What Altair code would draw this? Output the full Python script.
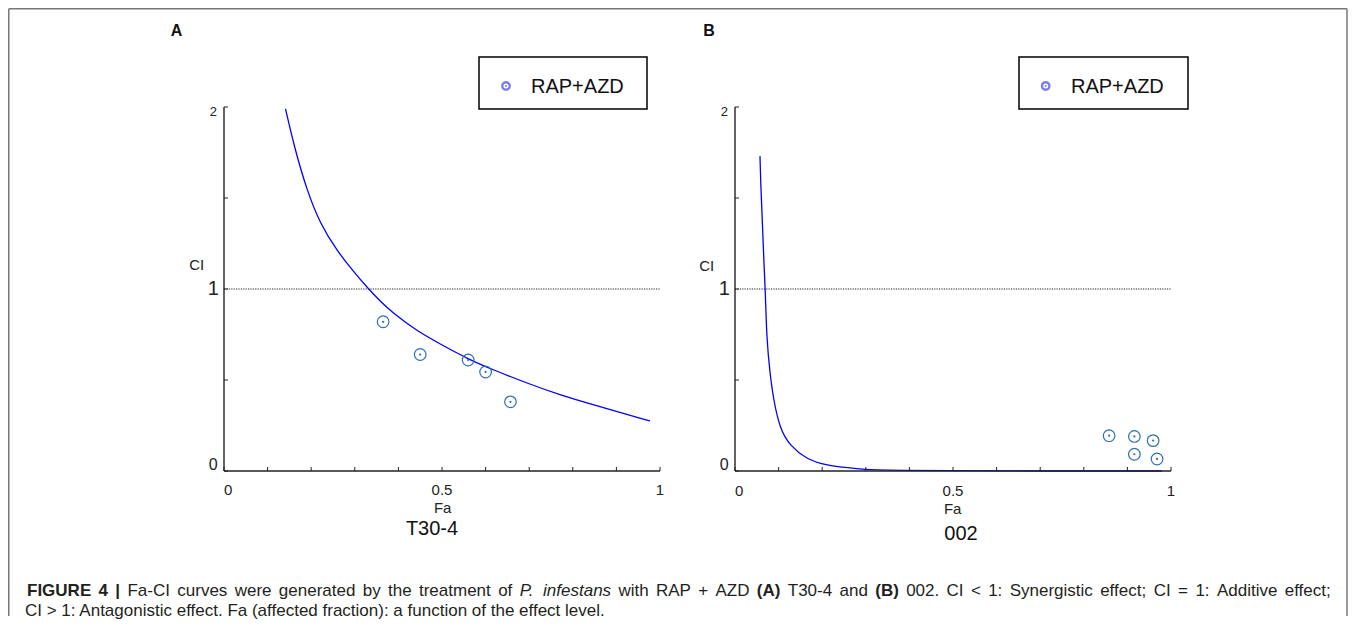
import altair as alt
import pandas as pd

# ---------------- data ----------------
# Panel A (T30-4)
fa_curve_A = [0.141, 0.163, 0.190, 0.220, 0.258, 0.297, 0.331, 0.356, 0.388, 0.442,
              0.500, 0.560, 0.618, 0.700, 0.771, 0.850, 0.920, 0.977]
ci_curve_A = [1.99, 1.764, 1.544, 1.361, 1.214, 1.095, 1.002, 0.938, 0.866, 0.770,
              0.692, 0.615, 0.555, 0.478, 0.418, 0.362, 0.314, 0.275]
fa_points_A = [0.365, 0.450, 0.560, 0.600, 0.657]
ci_points_A = [0.82, 0.64, 0.61, 0.544, 0.38]

# Panel B (002)
fa_curve_B = [0.0573, 0.0588, 0.0635, 0.0665, 0.0695, 0.0727, 0.080, 0.088, 0.103,
              0.126, 0.164, 0.203, 0.279, 0.355, 0.600, 0.979]
ci_curve_B = [1.73, 1.586, 1.33, 1.128, 1.0, 0.725, 0.542, 0.396, 0.231,
              0.139, 0.066, 0.033, 0.011, 0.002, 0.0, 0.0]
fa_points_B = [0.858, 0.916, 0.959, 0.916, 0.968]
ci_points_B = [0.194, 0.19, 0.167, 0.092, 0.066]

x_tick_values = [0.0, 0.1, 0.2, 0.3, 0.4, 0.5, 0.6, 0.7, 0.8, 0.9, 1.0]
y_tick_values = [0.0, 0.5, 1.0, 1.5, 2.0]
x_label_values = [0.0, 0.5, 1.0]
x_label_texts = ["0", "0.5", "1"]
y_label_values = [0.0, 1.0, 2.0]
y_label_texts = ["0", "1", "2"]
reference_ci = [1.0]

panel_letters = ["A", "B"]
panel_names = ["T30-4", "002"]
legend_label = "RAP+AZD"
x_title = "Fa"
y_title = "CI"

caption_line1 = [
    ("FIGURE 4 |", "bold", "normal"),
    ("Fa-CI curves were generated by the treatment of", "normal", "normal"),
    ("P. infestans", "normal", "italic"),
    ("with RAP + AZD", "normal", "normal"),
    ("(A)", "bold", "normal"),
    ("T30-4 and", "normal", "normal"),
    ("(B)", "bold", "normal"),
    ("002. CI < 1: Synergistic effect; CI = 1: Additive effect;", "normal", "normal"),
]
caption_line2 = "CI > 1: Antagonistic effect. Fa (affected fraction): a function of the effect level."

# ---------------- layout (pixels) ----------------
W, H = 436, 364
FONT = "Liberation Sans"
TXT = "#222222"
CAP_COLOR = "#231f20"
CAP_SIZE = 17
OX, OY = 224, 107          # page position of panel A plot origin
CAP_LEFT, CAP_RIGHT = 27, 1331

# approximate advance widths (1/1000 em) for Liberation Sans, used to justify line 1
REG = {" ": 278, "a": 556, "b": 556, "c": 500, "d": 556, "e": 556, "f": 278, "g": 556,
       "h": 556, "i": 222, "j": 222, "k": 500, "l": 222, "m": 833, "n": 556, "o": 556,
       "p": 556, "q": 556, "r": 333, "s": 500, "t": 278, "u": 556, "v": 500, "w": 722,
       "x": 500, "y": 500, "z": 500, "A": 667, "B": 667, "C": 722, "D": 722, "E": 667,
       "F": 611, "G": 778, "H": 722, "I": 278, "P": 667, "R": 722, "S": 667, "T": 611,
       "Z": 611, ".": 278, ",": 278, ";": 278, ":": 278, "(": 333, ")": 333, "-": 333,
       "+": 584, "<": 584, ">": 584, "=": 584, "|": 260}
BOLD = {"F": 611, "I": 278, "G": 778, "U": 722, "R": 722, "E": 667, "4": 556, "|": 280,
        "(": 333, ")": 333, "A": 722, "B": 722, " ": 278}


def tw(s, size, bold=False):
    tbl = BOLD if bold else REG
    return sum(tbl.get(c, 556) for c in s) * size / 1000.0


xscale = alt.Scale(domain=[0, 1], nice=False, zero=False)
yscale = alt.Scale(domain=[0, 2], nice=False, zero=False)
one = pd.DataFrame({"k": [0]})


def txt(text, x, y, size, align="center", weight="normal", style="normal",
        baseline="middle", color=TXT):
    return alt.Chart(one).mark_text(
        font=FONT, fontSize=size, fontWeight=weight, fontStyle=style,
        align=align, baseline=baseline, color=color
    ).encode(x=alt.value(x), y=alt.value(y), text=alt.value(text))


def panel(fa_c, ci_c, fa_p, ci_p, letter, name, lay):
    curve = pd.DataFrame({"fa": fa_c, "ci": ci_c, "i": list(range(len(fa_c)))})
    pts = pd.DataFrame({"fa": fa_p, "ci": ci_p})
    xl = pd.DataFrame({"v": x_label_values, "t": x_label_texts})
    xt = pd.DataFrame({"v": x_tick_values})
    yt = pd.DataFrame({"v": y_tick_values})

    # axes drawn as rules through the scales
    xdom = alt.Chart(one).mark_rule(color="#222222", strokeWidth=1.4).encode(
        x=alt.X(datum=0, scale=xscale, axis=None), x2=alt.X2(datum=1),
        y=alt.Y(datum=0, scale=yscale, axis=None))
    ydom = alt.Chart(one).mark_rule(color="#222222", strokeWidth=1.4).encode(
        y=alt.Y(datum=0, scale=yscale, axis=None), y2=alt.Y2(datum=2),
        x=alt.X(datum=0, scale=xscale, axis=None))
    xticks = alt.Chart(xt).mark_rule(color="#222222", strokeWidth=1).encode(
        x=alt.X("v:Q", scale=xscale, axis=None), y=alt.value(H), y2=alt.value(H - 4))
    yticks = alt.Chart(yt).mark_rule(color="#222222", strokeWidth=1).encode(
        y=alt.Y("v:Q", scale=yscale, axis=None), x=alt.value(0), x2=alt.value(4))

    ref = alt.Chart(pd.DataFrame({"ci": reference_ci})).mark_rule(
        color="#222222", strokeWidth=1, strokeDash=[1.2, 1.2]
    ).encode(y=alt.Y("ci:Q", scale=yscale, axis=None),
             x=alt.X(datum=0, scale=xscale, axis=None), x2=alt.X2(datum=1))

    line = alt.Chart(curve).mark_line(color="#0000ff", strokeWidth=1.3,
                                      interpolate="basis").encode(
        x=alt.X("fa:Q", scale=xscale, axis=None),
        y=alt.Y("ci:Q", scale=yscale, axis=None),
        order="i:Q",
    )
    circ = alt.Chart(pts).mark_point(shape="circle", size=135, filled=False,
                                     color="#2f6fae", strokeWidth=1.2, opacity=1).encode(
        x=alt.X("fa:Q", scale=xscale, axis=None),
        y=alt.Y("ci:Q", scale=yscale, axis=None),
    )
    dot = alt.Chart(pts).mark_point(shape="circle", size=5, filled=True,
                                    color="#2f6fae", opacity=1).encode(
        x=alt.X("fa:Q", scale=xscale, axis=None),
        y=alt.Y("ci:Q", scale=yscale, axis=None),
    )
    xlab0 = alt.Chart(xl).transform_filter("datum.v == 0").mark_text(
        font=FONT, fontSize=15, align="left", baseline="middle", color=TXT
    ).encode(x=alt.X("v:Q", scale=xscale, axis=None), y=alt.value(lay["xly"]), text="t:N")
    xlab = alt.Chart(xl).transform_filter("datum.v > 0").mark_text(
        font=FONT, fontSize=15, align="center", baseline="middle", color=TXT
    ).encode(x=alt.X("v:Q", scale=xscale, axis=None), y=alt.value(lay["xly"]), text="t:N")

    ylabs = []
    for v, t, size, dy in zip(y_label_values, y_label_texts, [16, 20, 13], [-6, 0, 5]):
        ylabs.append(
            alt.Chart(pd.DataFrame({"v": [v], "t": [t]})).mark_text(
                font=FONT, fontSize=size, align="center", baseline="middle", color=TXT, dy=dy
            ).encode(x=alt.value(-10.7), y=alt.Y("v:Q", scale=yscale, axis=None), text="t:N")
        )

    box = alt.Chart(one).mark_rect(fill="white", stroke="black", strokeWidth=1.5).encode(
        x=alt.value(lay["box"][0]), x2=alt.value(lay["box"][1]),
        y=alt.value(-50), y2=alt.value(2))
    sym = alt.Chart(one).mark_point(shape="circle", size=55, filled=False,
                                    color="#7c7cf4", strokeWidth=2.4, opacity=1).encode(
        x=alt.value(lay["sym"]), y=alt.value(-21))
    symdot = alt.Chart(one).mark_point(shape="circle", size=4, filled=True,
                                       color="#7c7cf4", opacity=1).encode(
        x=alt.value(lay["sym"]), y=alt.value(-21))

    layers = [ref, line, xdom, ydom, xticks, yticks, circ, dot, xlab0, xlab] + ylabs + [
        box, sym, symdot,
        txt(legend_label, lay["leg"], -20, 20, align="left", color="#111111"),
        txt(letter, lay["letter"], -76, 16, weight="bold", color="#111111"),
        txt(y_title, lay["cix"], lay["ciy"], 15),
        txt(x_title, lay["fax"], lay["fay"], 15),
        txt(name, lay["namex"], lay["namey"], 20, color="#111111"),
    ]
    return layers


layA = dict(xly=383, box=(255, 423), sym=282, leg=307, letter=-47.5,
            cix=-27.3, ciy=158, fax=218.7, fay=401, namex=208, namey=422)
layB = dict(xly=383.7, box=(284, 453), sym=310.7, leg=336, letter=-26,
            cix=-28.3, ciy=159, fax=217.7, fay=402, namex=226, namey=427)

layersA = panel(fa_curve_A, ci_curve_A, fa_points_A, ci_points_A, panel_letters[0], panel_names[0], layA)
layersB = panel(fa_curve_B, ci_curve_B, fa_points_B, ci_points_B, panel_letters[1], panel_names[1], layB)

# figure frame (left, top, right edges), attached to panel A
LEFT, TOP, RIGHT, BOTTOM = -215.25, -98.25, 1123.0, 509
frame = []
for (x1, x2, y1, y2) in [(LEFT, LEFT, TOP, BOTTOM), (LEFT, RIGHT, TOP, TOP), (RIGHT, RIGHT, TOP, BOTTOM)]:
    frame.append(alt.Chart(one).mark_rule(color="#777777", strokeWidth=1.5).encode(
        x=alt.value(x1), x2=alt.value(x2), y=alt.value(y1), y2=alt.value(y2)))

# caption: line 1 fully justified word by word, line 2 left aligned
words = []
for seg, weight, style in caption_line1:
    for w in seg.split(" "):
        words.append((w, weight, style))
widths = [tw(w, CAP_SIZE, wt == "bold") for w, wt, st in words]
gap = (CAP_RIGHT - CAP_LEFT - sum(widths)) / (len(words) - 1)
cap = []
xpos = CAP_LEFT
for (w, wt, st), wd in zip(words, widths):
    cap.append(txt(w, xpos - OX, 596 - OY, CAP_SIZE, align="left", weight=wt,
                   style=st, baseline="alphabetic", color=CAP_COLOR))
    xpos += wd + gap
cap.append(txt(caption_line2, 25 - OX, 616 - OY, CAP_SIZE, align="left",
               baseline="alphabetic", color=CAP_COLOR))

panelA = alt.layer(*(frame + layersA + cap)).properties(width=W, height=H)
panelB = alt.layer(*layersB).properties(width=W, height=H)

chart = alt.hconcat(panelA, panelB, spacing=75, bounds="flush").properties(
    padding=0, background="white"
).configure_view(stroke=None)

chart.save("out.html", embed_options={"renderer": "svg", "actions": False})
